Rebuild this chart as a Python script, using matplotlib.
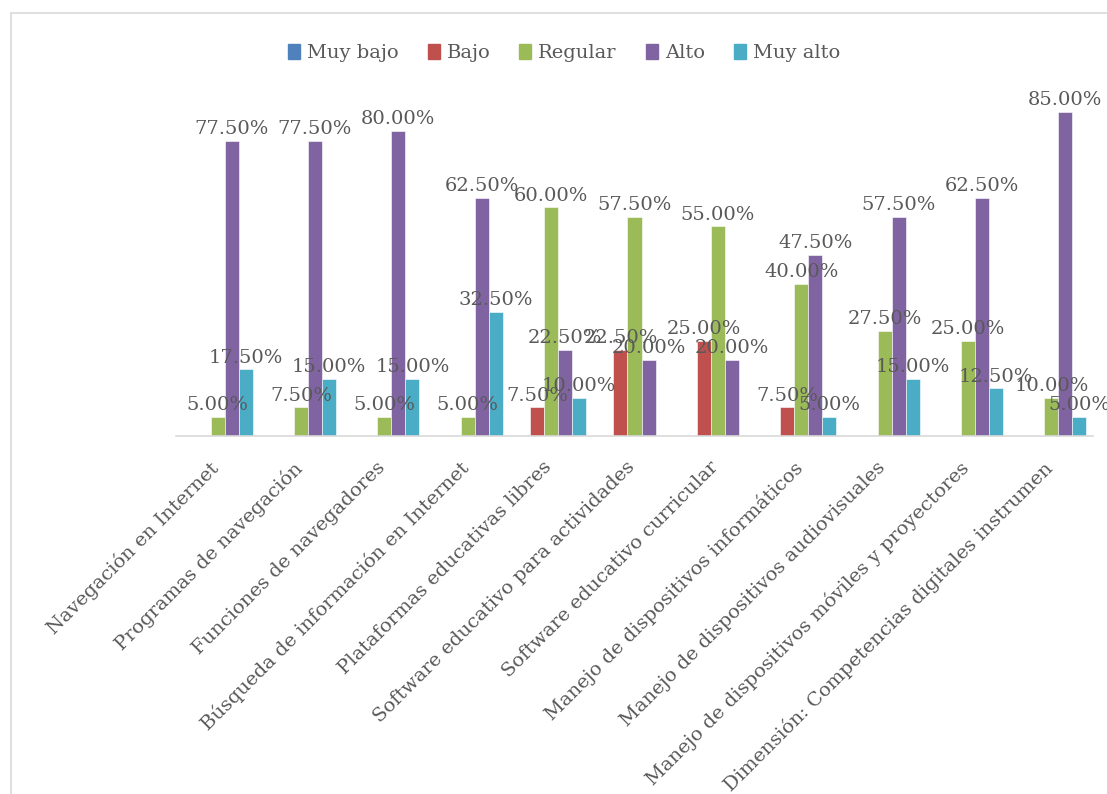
import numpy as np
import matplotlib
matplotlib.use('Agg')
import matplotlib.pyplot as plt
import matplotlib.patches as patches

plt.rcParams['font.family'] = ['DejaVu Serif']

categories = ['Navegación en Internet',
              'Programas de navegación',
              'Funciones de navegadores',
              'Búsqueda de información en Internet',
              'Plataformas educativas libres',
              'Software educativo para actividades',
              'Software educativo curricular',
              'Manejo de dispositivos informáticos',
              'Manejo de dispositivos audiovisuales',
              'Manejo de dispositivos móviles y proyectores',
              'Dimensión: Competencias digitales instrumen']

series = ['Muy bajo', 'Bajo', 'Regular', 'Alto', 'Muy alto']
muy_bajo = [0, 0, 0, 0, 0, 0, 0, 0, 0, 0, 0]
bajo = [0, 0, 0, 0, 7.5, 22.5, 25.0, 7.5, 0, 0, 0]
regular = [5.0, 7.5, 5.0, 5.0, 60.0, 57.5, 55.0, 40.0, 27.5, 25.0, 10.0]
alto = [77.5, 77.5, 80.0, 62.5, 22.5, 20.0, 20.0, 47.5, 57.5, 62.5, 85.0]
muy_alto = [17.5, 15.0, 15.0, 32.5, 10.0, 0, 0, 5.0, 15.0, 12.5, 5.0]
values = [muy_bajo, bajo, regular, alto, muy_alto]
colors = ['#4F81BD', '#C0504D', '#9BBB59', '#8064A2', '#4BACC6']

txt = '#595959'

fig = plt.figure(figsize=(11.07, 7.94), dpi=100)
# light frame of the chart area
fig.patches.append(patches.Rectangle((11/1107, -0.1), 1.2, 1 - 13/794 + 0.1,
                                     transform=fig.transFigure, fill=False,
                                     edgecolor='#d9d9d9', linewidth=1.2))

ax = fig.add_axes([176/1107, 358/794, (1093-176)/1107, 343/794])
x = np.arange(len(categories))
w = 0.168
for i, (name, vals, c) in enumerate(zip(series, values, colors)):
    bars = ax.bar(x + (i - 2) * w, vals, w, color=c, label=name,
                  edgecolor='white', linewidth=0.4)
    labs = ['%.2f%%' % v if v > 0 else '' for v in vals]
    ax.bar_label(bars, labels=labs, padding=2, fontsize=14, color=txt)

ax.set_xlim(-0.5, len(categories) - 0.5)
ax.set_ylim(0, 90)
ax.set_yticks([])
for s in ['top', 'right', 'left']:
    ax.spines[s].set_visible(False)
ax.spines['bottom'].set_color('#d9d9d9')
ax.spines['bottom'].set_linewidth(1.2)
ax.set_xticks(x - 0.1)
ax.set_xticklabels(categories, rotation=45, ha='right', va='top',
                   rotation_mode='anchor', fontsize=14, color=txt)
ax.tick_params(axis='x', length=0, pad=16)

handles = [patches.Patch(facecolor=c, edgecolor=c) for c in colors]
fig.legend(handles, series, loc='center',
           bbox_to_anchor=(564/1107, 1 - 53/794), ncol=5,
           frameon=False, fontsize=14, handlelength=0.62, handleheight=0.85,
           handletextpad=0.35, columnspacing=1.5, labelcolor=txt)

fig.savefig('out.png', dpi=100)
